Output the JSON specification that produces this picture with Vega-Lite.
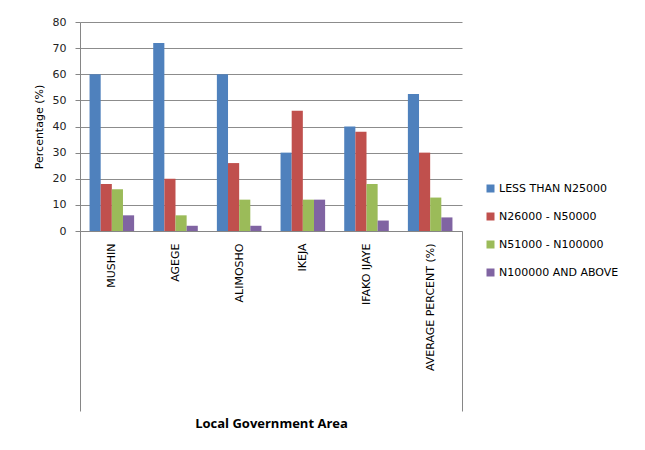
{
  "$schema": "https://vega.github.io/schema/vega-lite/v6.json",
  "width": 382,
  "height": 209,
  "autosize": {"type": "none"},
  "padding": {"left": 80, "top": 22, "right": 183, "bottom": 219},
  "background": "white",
  "config": {
    "view": {"stroke": null},
    "font": "DejaVu Sans"
  },
  "data": {
    "values": [
      {"lga": "MUSHIN", "income": "LESS THAN  N25000", "pct": 60},
      {"lga": "MUSHIN", "income": "N26000 - N50000", "pct": 18},
      {"lga": "MUSHIN", "income": "N51000 - N100000", "pct": 16},
      {"lga": "MUSHIN", "income": "N100000 AND ABOVE", "pct": 6},
      {"lga": "AGEGE", "income": "LESS THAN  N25000", "pct": 72},
      {"lga": "AGEGE", "income": "N26000 - N50000", "pct": 20},
      {"lga": "AGEGE", "income": "N51000 - N100000", "pct": 6},
      {"lga": "AGEGE", "income": "N100000 AND ABOVE", "pct": 2},
      {"lga": "ALIMOSHO", "income": "LESS THAN  N25000", "pct": 60},
      {"lga": "ALIMOSHO", "income": "N26000 - N50000", "pct": 26},
      {"lga": "ALIMOSHO", "income": "N51000 - N100000", "pct": 12},
      {"lga": "ALIMOSHO", "income": "N100000 AND ABOVE", "pct": 2},
      {"lga": "IKEJA", "income": "LESS THAN  N25000", "pct": 30},
      {"lga": "IKEJA", "income": "N26000 - N50000", "pct": 46},
      {"lga": "IKEJA", "income": "N51000 - N100000", "pct": 12},
      {"lga": "IKEJA", "income": "N100000 AND ABOVE", "pct": 12},
      {"lga": "IFAKO IJAYE", "income": "LESS THAN  N25000", "pct": 40},
      {"lga": "IFAKO IJAYE", "income": "N26000 - N50000", "pct": 38},
      {"lga": "IFAKO IJAYE", "income": "N51000 - N100000", "pct": 18},
      {"lga": "IFAKO IJAYE", "income": "N100000 AND ABOVE", "pct": 4},
      {"lga": "AVERAGE PERCENT  (%)", "income": "LESS THAN  N25000", "pct": 52.4},
      {"lga": "AVERAGE PERCENT  (%)", "income": "N26000 - N50000", "pct": 30},
      {"lga": "AVERAGE PERCENT  (%)", "income": "N51000 - N100000", "pct": 12.8},
      {"lga": "AVERAGE PERCENT  (%)", "income": "N100000 AND ABOVE", "pct": 5.2}
    ]
  },
  "mark": {"type": "bar", "width": {"band": 1}},
  "encoding": {
    "x": {
      "field": "lga",
      "type": "nominal",
      "sort": null,
      "scale": {"paddingInner": 0, "paddingOuter": 0},
      "axis": {
        "title": "Local Government Area",
        "titleFont": "Open Sans",
        "titleFontSize": 13,
        "titleFontWeight": "bold",
        "titleColor": "#000000",
        "titleY": 192,
        "titleBaseline": "middle",
        "labelAngle": -90,
        "labelFont": "DejaVu Sans",
        "labelFontSize": 11,
        "labelColor": "#000000",
        "labelPadding": -168,
        "labelLimit": 200,
        "domainColor": "#868686",
        "tickBand": "extent",
        "tickSize": 180,
        "tickColor": "#868686",
        "tickOpacity": {"condition": {"test": "datum.index == 1 || !isNumber(datum.index) || datum.index < 0 || isValid(datum.extra)", "value": 1}, "value": 0}
      }
    },
    "y": {
      "field": "pct",
      "type": "quantitative",
      "scale": {"domain": [0, 80], "nice": false},
      "axis": {
        "title": "Percentage (%)",
        "titleFont": "DejaVu Sans",
        "titleFontSize": 11,
        "titleFontWeight": "normal",
        "titleColor": "#000000",
        "titlePadding": 8,
        "values": [0, 10, 20, 30, 40, 50, 60, 70, 80],
        "labelFont": "DejaVu Sans",
        "labelFontSize": 11,
        "labelColor": "#222222",
        "labelPadding": 9,
        "tickSize": 5,
        "tickColor": "#868686",
        "domainColor": "#868686",
        "gridColor": "#8c8c8c",
        "gridWidth": 1
      }
    },
    "xOffset": {"field": "income", "type": "nominal", "sort": ["LESS THAN  N25000", "N26000 - N50000", "N51000 - N100000", "N100000 AND ABOVE"], "scale": {"paddingInner": 0, "paddingOuter": 0.857}},
    "color": {
      "field": "income",
      "type": "nominal",
      "sort": ["LESS THAN  N25000", "N26000 - N50000", "N51000 - N100000", "N100000 AND ABOVE"],
      "scale": {"domain": ["LESS THAN  N25000", "N26000 - N50000", "N51000 - N100000", "N100000 AND ABOVE"], "range": ["#4f81bd", "#c0504d", "#9bbb59", "#8064a2"]},
      "legend": {
        "title": null,
        "orient": "none",
        "legendX": 405,
        "legendY": 161,
        "symbolType": "square",
        "symbolSize": 64,
        "symbolStrokeWidth": 0,
        "labelFont": "DejaVu Sans",
        "labelFontSize": 11,
        "labelColor": "#000000",
        "rowPadding": 16,
        "labelOffset": 3
      }
    }
  }
}
